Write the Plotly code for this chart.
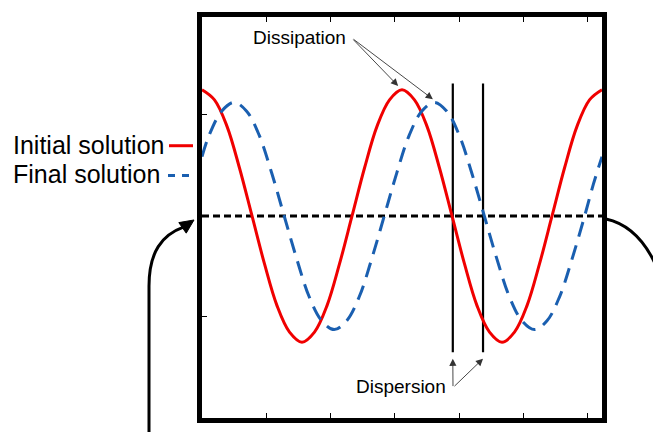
import plotly.graph_objects as go

# Sample points along each wave (x in axis units, y relative to the mean level)
red_x = [0.000, 0.194, 0.389, 0.583, 0.778, 0.972, 1.166, 1.361, 1.555,
         1.749, 1.944, 2.138, 2.333, 2.527, 2.721, 2.916, 3.110,
         3.304, 3.499, 3.693, 3.888, 4.082, 4.276, 4.471, 4.665,
         4.859, 5.054, 5.248, 5.443, 5.637, 5.831, 6.026, 6.220]
red_y = [1.00, 0.92, 0.71, 0.38, 0.00, -0.38, -0.71, -0.92, -1.00,
         -0.92, -0.71, -0.38, 0.00, 0.38, 0.71, 0.92, 1.00,
         0.92, 0.71, 0.38, 0.00, -0.38, -0.71, -0.92, -1.00,
         -0.92, -0.71, -0.38, 0.00, 0.38, 0.71, 0.92, 1.00]

blue_x = [0.000, 0.111, 0.306, 0.500, 0.694, 0.889, 1.084, 1.278, 1.473,
          1.667, 1.862, 2.056, 2.250, 2.445, 2.639, 2.834, 3.028,
          3.223, 3.417, 3.612, 3.806, 4.000, 4.195, 4.390, 4.585,
          4.780, 4.975, 5.170, 5.365, 5.560, 5.755, 5.950, 6.085, 6.220]
blue_y = [0.47, 0.64, 0.83, 0.90, 0.83, 0.64, 0.34, 0.00, -0.34,
          -0.64, -0.83, -0.90, -0.83, -0.64, -0.34, 0.00, 0.34,
          0.64, 0.83, 0.90, 0.83, 0.64, 0.34, 0.00, -0.34,
          -0.64, -0.83, -0.90, -0.83, -0.64, -0.34, 0.00, 0.25, 0.47]

# Mean level and the two crossing markers
mean_x = [0.0, 6.22]
mean_y = [0.0, 0.0]
cross_x = [3.90, 4.37]
cross_y = [1.05, -1.08]

# Arrow targets for the labels
dissipation_tips = [(3.05, 1.03), (3.59, 0.925)]
dispersion_tips = [(3.90, -1.13), (4.37, -1.13)]

x_ticks = [1, 2, 3, 4, 5, 6]
y_ticks = [-0.8, 0.0, 0.8]

RED = "#f00000"
BLUE = "#1a5fb0"
FONT = "Arial, Liberation Sans, sans-serif"

# plot area in pixels (used only to place decorations outside the axes)
L, R, T, B = 202, 602, 13, 418


def px(x, y):
    return (x - L) / (R - L), (B - y) / (B - T)


def path(cmds):
    out = []
    for c in cmds:
        if isinstance(c, str):
            out.append(c)
        else:
            xp, yp = px(*c)
            out.append(f"{xp:.5f},{yp:.5f}")
    return " ".join(out)


fig = go.Figure()
fig.add_trace(go.Scatter(x=mean_x, y=mean_y, mode="lines",
                         line=dict(color="black", width=3, dash="7px,4px")))
for cx in cross_x:
    fig.add_trace(go.Scatter(x=[cx, cx], y=cross_y, mode="lines",
                             line=dict(color="black", width=2.2)))
fig.add_trace(go.Scatter(x=red_x, y=red_y, mode="lines",
                         line=dict(color=RED, width=3, shape="spline", smoothing=1.0)))
fig.add_trace(go.Scatter(x=blue_x, y=blue_y, mode="lines",
                         line=dict(color=BLUE, width=3, shape="spline", smoothing=1.0,
                                   dash="15px,9px")))

annotations = []
annotations.append(dict(x=1.51, y=1.41, xref="x", yref="y", text="Dissipation",
                        showarrow=False, font=dict(family=FONT, size=19, color="black")))
annotations.append(dict(x=3.10, y=-1.35, xref="x", yref="y", text="Dispersion",
                        showarrow=False, font=dict(family=FONT, size=19, color="black")))
tail_d = (352, 35)
for tx, ty in dissipation_tips:
    tpx = L + tx * (R - L) / 6.22
    tpy = 214 - ty * 127.5
    annotations.append(dict(x=tx, y=ty, xref="x", yref="y", text="", showarrow=True,
                            ax=tail_d[0] - tpx, ay=tail_d[1] - tpy,
                            arrowhead=2, arrowsize=1.6, arrowwidth=0.9,
                            arrowcolor="#333333", standoff=0))
tail_p = (453, 387)
for tx, ty in dispersion_tips:
    tpx = L + tx * (R - L) / 6.22
    tpy = 214 - ty * 127.5
    annotations.append(dict(x=tx, y=ty, xref="x", yref="y", text="", showarrow=True,
                            ax=tail_p[0] - tpx, ay=tail_p[1] - tpy,
                            arrowhead=2, arrowsize=1.6, arrowwidth=0.9,
                            arrowcolor="#333333", standoff=0))

# legend labels written to the left of their swatches
lx, ly = px(166, 142)
annotations.append(dict(x=lx, y=ly, xref="paper", yref="paper", text="Initial solution",
                        xanchor="right", yanchor="middle", showarrow=False,
                        font=dict(family=FONT, size=25, color="black")))
lx, ly = px(162, 172)
annotations.append(dict(x=lx, y=ly, xref="paper", yref="paper", text="Final solution",
                        xanchor="right", yanchor="middle", showarrow=False,
                        font=dict(family=FONT, size=25, color="black")))

shapes = []
x0, y0 = px(169, 143)
x1, _ = px(193, 143)
shapes.append(dict(type="line", xref="paper", yref="paper", x0=x0, x1=x1, y0=y0, y1=y0,
                   line=dict(color=RED, width=3)))
x0, y0 = px(168, 173)
x1, _ = px(194, 173)
shapes.append(dict(type="line", xref="paper", yref="paper", x0=x0, x1=x1, y0=y0, y1=y0,
                   line=dict(color=BLUE, width=3, dash="7px,7px")))

# curved arrows outside the frame
shapes.append(dict(type="path", xref="paper", yref="paper",
                   path=path(["M", (149, 445), "L", (149, 285), "C", (149, 250), (162, 233), (184, 225)]),
                   line=dict(color="black", width=3)))
tip = (194, 218)
dx, dy = 0.82, -0.57
hl, hw = 14, 6.5
bx, by = tip[0] - hl * dx, tip[1] - hl * dy
shapes.append(dict(type="path", xref="paper", yref="paper",
                   path=path(["M", tip, "L", (bx - hw * dy, by + hw * dx), "L",
                              (bx + hw * dy, by - hw * dx), "Z"]),
                   fillcolor="black", line=dict(color="black", width=1)))
shapes.append(dict(type="path", xref="paper", yref="paper",
                   path=path(["M", (606, 217), "Q", (638, 224), (656, 264)]),
                   line=dict(color="black", width=3)))

axis_common = dict(showline=True, linecolor="black", linewidth=4.5, showgrid=False,
                   zeroline=False, ticks="inside", ticklen=5, tickwidth=1,
                   tickcolor="black", showticklabels=False)

fig.update_layout(
    width=653, height=432,
    margin=dict(l=L, r=653 - R, t=T, b=432 - B),
    paper_bgcolor="white", plot_bgcolor="white",
    showlegend=False,
    xaxis=dict(range=[0, 6.22], tickvals=x_ticks, mirror="ticks", **axis_common),
    yaxis=dict(range=[-1.6, 1.576], tickvals=y_ticks, mirror=True, **axis_common),
    annotations=annotations,
    shapes=shapes,
)

fig.write_html("out.html")
